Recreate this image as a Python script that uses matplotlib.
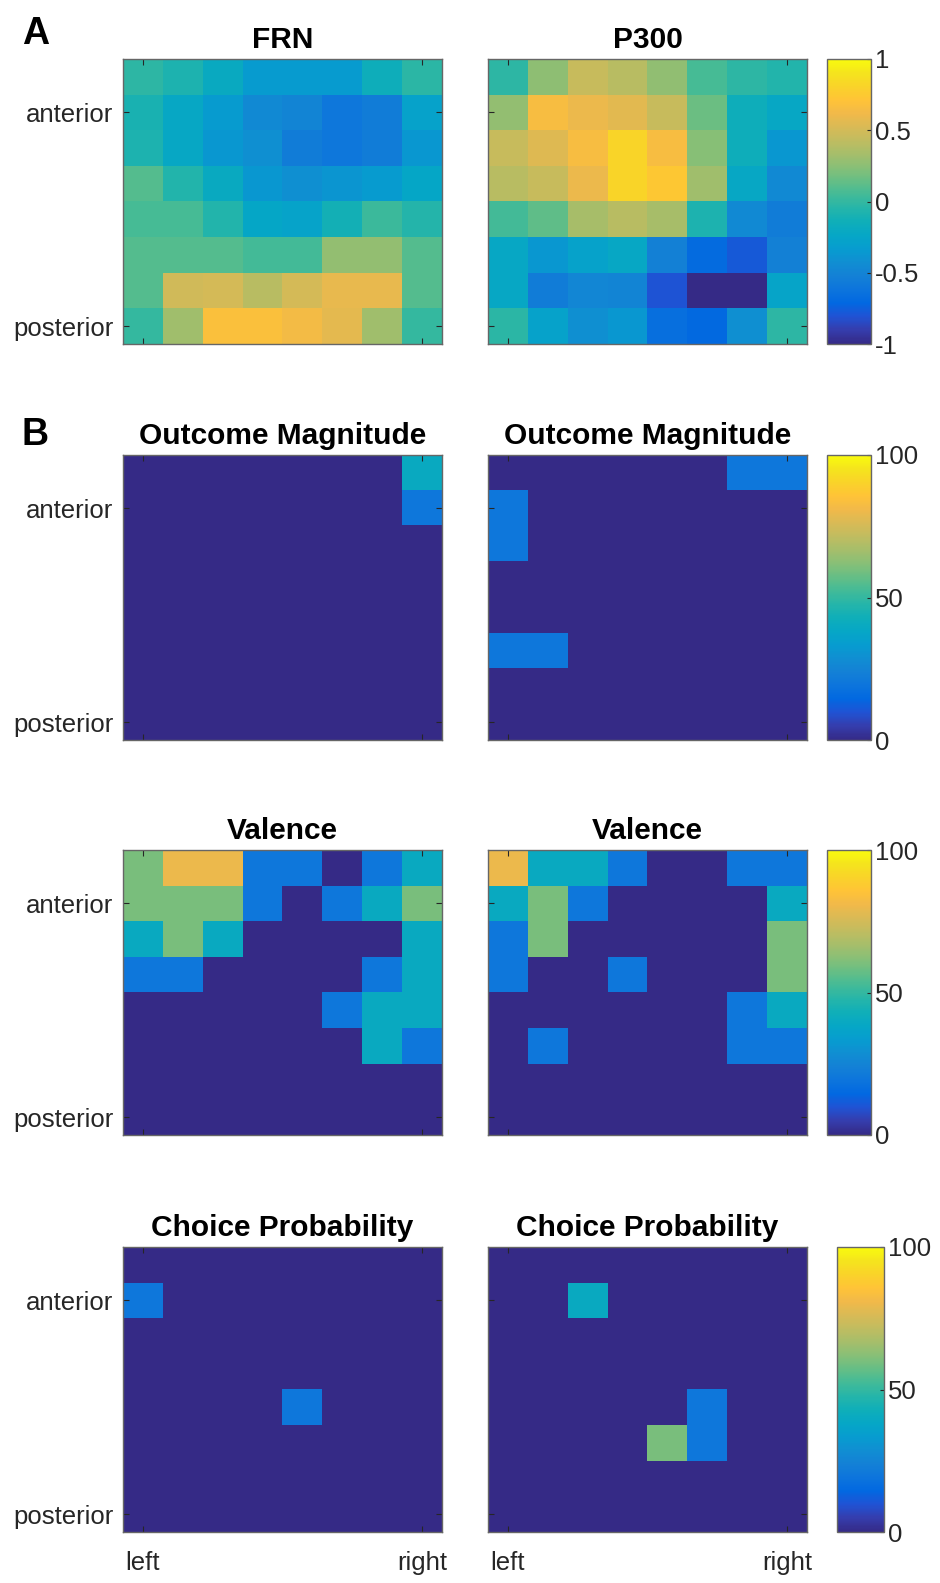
import matplotlib
matplotlib.use("Agg")
import matplotlib.pyplot as plt
import numpy as np
from matplotlib.colors import LinearSegmentedColormap

plt.rcParams['font.family'] = ['Liberation Sans', 'DejaVu Sans']

# parula-like colormap (sampled from MATLAB parula)
parula_pts = [
    (0.2081, 0.1663, 0.5292), (0.2081, 0.2386, 0.6771), (0.1253, 0.3242, 0.8303),
    (0.0060, 0.4086, 0.8828), (0.0498, 0.4586, 0.8641), (0.0779, 0.5040, 0.8384),
    (0.0641, 0.5570, 0.8240), (0.0265, 0.6137, 0.8135), (0.0228, 0.6535, 0.7768),
    (0.0590, 0.6838, 0.7254), (0.1453, 0.7098, 0.6646), (0.2586, 0.7317, 0.5954),
    (0.3953, 0.7459, 0.5244), (0.5300, 0.7491, 0.4661), (0.6473, 0.7456, 0.4188),
    (0.7525, 0.7384, 0.3768), (0.8507, 0.7299, 0.3360), (0.9450, 0.7261, 0.2886),
    (0.9990, 0.7653, 0.2164), (0.9789, 0.8271, 0.1633), (0.9589, 0.8949, 0.1132),
    (0.9763, 0.9831, 0.0538)]
parula = LinearSegmentedColormap.from_list('parula', parula_pts, N=256)

# A: correlation maps (rows anterior -> posterior, cols left -> right)
frn = [
    [-0.02, -0.08, -0.20, -0.34, -0.34, -0.34, -0.15, -0.03],
    [-0.10, -0.22, -0.34, -0.46, -0.50, -0.60, -0.55, -0.28],
    [-0.08, -0.22, -0.36, -0.42, -0.55, -0.60, -0.55, -0.36],
    [0.10, -0.06, -0.20, -0.36, -0.42, -0.38, -0.34, -0.24],
    [0.06, 0.06, -0.06, -0.24, -0.27, -0.12, 0.03, -0.05],
    [0.10, 0.10, 0.10, 0.05, 0.05, 0.28, 0.28, 0.10],
    [0.10, 0.49, 0.50, 0.40, 0.50, 0.58, 0.58, 0.10],
    [0.00, 0.32, 0.68, 0.68, 0.64, 0.57, 0.32, 0.00],
]
p300 = [
    [-0.02, 0.26, 0.46, 0.40, 0.27, 0.06, -0.02, -0.06],
    [0.28, 0.66, 0.60, 0.56, 0.46, 0.16, -0.15, -0.22],
    [0.46, 0.54, 0.66, 0.82, 0.66, 0.24, -0.15, -0.36],
    [0.40, 0.46, 0.60, 0.82, 0.74, 0.32, -0.22, -0.46],
    [0.05, 0.13, 0.34, 0.40, 0.34, -0.08, -0.46, -0.55],
    [-0.22, -0.36, -0.28, -0.22, -0.52, -0.68, -0.78, -0.52],
    [-0.22, -0.55, -0.48, -0.50, -0.80, -1.00, -1.00, -0.26],
    [-0.03, -0.28, -0.42, -0.36, -0.66, -0.70, -0.42, -0.02],
]

# B: percentage maps
om_frn = [
    [0, 0, 0, 0, 0, 0, 0, 40],
    [0, 0, 0, 0, 0, 0, 0, 20],
    [0] * 8, [0] * 8, [0] * 8, [0] * 8, [0] * 8, [0] * 8,
]
om_p300 = [
    [0, 0, 0, 0, 0, 0, 20, 20],
    [20, 0, 0, 0, 0, 0, 0, 0],
    [20, 0, 0, 0, 0, 0, 0, 0],
    [0] * 8, [0] * 8,
    [20, 20, 0, 0, 0, 0, 0, 0],
    [0] * 8, [0] * 8,
]
val_frn = [
    [60, 80, 80, 20, 20, 0, 20, 40],
    [60, 60, 60, 20, 0, 20, 40, 60],
    [40, 60, 40, 0, 0, 0, 0, 40],
    [20, 20, 0, 0, 0, 0, 20, 40],
    [0, 0, 0, 0, 0, 20, 40, 40],
    [0, 0, 0, 0, 0, 0, 40, 20],
    [0] * 8, [0] * 8,
]
val_p300 = [
    [80, 40, 40, 20, 0, 0, 20, 20],
    [40, 60, 20, 0, 0, 0, 0, 40],
    [20, 60, 0, 0, 0, 0, 0, 60],
    [20, 0, 0, 20, 0, 0, 0, 60],
    [0, 0, 0, 0, 0, 0, 20, 40],
    [0, 20, 0, 0, 0, 0, 20, 20],
    [0] * 8, [0] * 8,
]
cp_frn = [
    [0] * 8,
    [20, 0, 0, 0, 0, 0, 0, 0],
    [0] * 8, [0] * 8,
    [0, 0, 0, 0, 20, 0, 0, 0],
    [0] * 8, [0] * 8, [0] * 8,
]
cp_p300 = [
    [0] * 8,
    [0, 0, 40, 0, 0, 0, 0, 0],
    [0] * 8, [0] * 8,
    [0, 0, 0, 0, 0, 20, 0, 0],
    [0, 0, 0, 0, 60, 20, 0, 0],
    [0] * 8, [0] * 8,
]

rows = [
    (("FRN", frn), ("P300", p300), (-1, 1), [-1, -0.5, 0, 0.5, 1]),
    (("Outcome Magnitude", om_frn), ("Outcome Magnitude", om_p300), (0, 100), [0, 50, 100]),
    (("Valence", val_frn), ("Valence", val_p300), (0, 100), [0, 50, 100]),
    (("Choice Probability", cp_frn), ("Choice Probability", cp_p300), (0, 100), [0, 50, 100]),
]

W, H = 940, 1583
fig = plt.figure(figsize=(W / 100, H / 100), dpi=100)

tops = [59, 455, 850, 1247]
ax_h = 285
lefts = [123, 488]
ax_w = 319
edge = '0.15'

for r, (left_p, right_p, lim, cticks) in enumerate(rows):
    bottom = 1 - (tops[r] + ax_h) / H
    for c, (title, data) in enumerate([left_p, right_p]):
        ax = fig.add_axes([lefts[c] / W, bottom, ax_w / W, ax_h / H])
        im = ax.imshow(np.array(data), cmap=parula, vmin=lim[0], vmax=lim[1],
                       aspect='auto', interpolation='nearest')
        ax.set_title(title, fontsize=21.5, fontweight='bold', pad=8)
        ax.set_xticks([0, 7])
        ax.set_yticks([1, 7])
        ax.tick_params(direction='in', top=True, right=True, length=4,
                       width=0.8, color=edge, labelcolor=edge, labelsize=18.5)
        ax.tick_params(axis='y', pad=7)
        ax.tick_params(axis='x', pad=14)
        if c == 0:
            ax.set_yticklabels(['anterior', 'posterior'])
        else:
            ax.set_yticklabels([])
        if r == 3:
            ax.set_xticklabels(['left', 'right'])
        else:
            ax.set_xticklabels([])
        for s in ax.spines.values():
            s.set_color('0.4')
            s.set_linewidth(1.0)
    cx, cw = (837, 47) if r == 3 else (827, 44)
    cax = fig.add_axes([cx / W, bottom, cw / W, ax_h / H])
    cb = fig.colorbar(im, cax=cax, ticks=cticks)
    cb.ax.set_yticklabels([f'{t:g}' for t in cticks])
    cb.ax.tick_params(direction='in', length=3, width=0.8, color=edge,
                      labelcolor=edge, labelsize=18.5, pad=3)
    cb.outline.set_edgecolor('0.4')
    cb.outline.set_linewidth(1.0)

fig.text(22 / W, 1 - 34 / H, 'A', fontsize=27, fontweight='bold', va='center', ha='left')
fig.text(22 / W, 1 - 435 / H, 'B', fontsize=27, fontweight='bold', va='center', ha='left')

fig.savefig('out.png', dpi=100)
